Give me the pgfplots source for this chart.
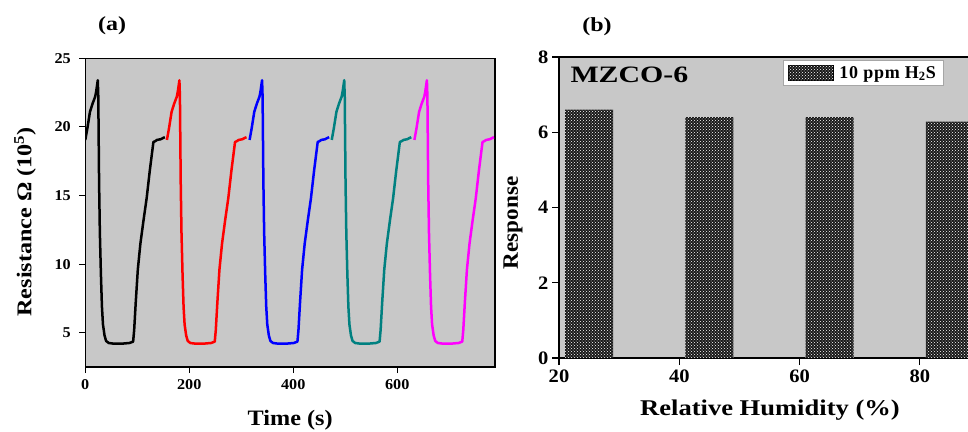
\documentclass[border=0pt]{standalone}
\usepackage{fontspec}
\setmainfont{Liberation Serif}
\usepackage{pgfplots}
\pgfplotsset{compat=1.18}
\usetikzlibrary{patterns}
\definecolor{bg}{RGB}{200,200,200}
\definecolor{tealc}{RGB}{0,128,128}
\definecolor{magc}{RGB}{255,0,255}
\definecolor{redc}{RGB}{255,0,0}
\definecolor{bluec}{RGB}{0,0,255}
\begin{document}
\begin{tikzpicture}[x=1pt,y=1pt]
\useasboundingbox (0,0) rectangle (968,431);
\clip (0,0) rectangle (968,431);
% ---------------- panel (a)
\begin{axis}[at={(85.3pt,64pt)}, anchor=south west, scale only axis,
 width=409.7pt, height=308.7pt,
 xmin=0, xmax=788, ymin=2.5, ymax=25,
 axis background/.style={fill=bg},
 axis line style={line width=1.3pt},
 xtick={0,200,400,600}, ytick={5,10,15,20,25},
 tick align=outside, xtick pos=bottom, ytick pos=left, major tick length=6pt,
 tick style={line width=1.1pt, black},
 /pgf/number format/assume math mode=true,
 ticklabel style={font=\bfseries\fontsize{15}{15}\selectfont\addfontfeature{FakeStretch=1.08}},
 yticklabel style={xshift=-5pt},
 xticklabel style={yshift=-3pt},
 xlabel={Time (s)}, ylabel={Resistance Ω (10\textsuperscript{5})},
 xlabel style={at={(axis description cs:0.5,-0.172)}, anchor=center, font=\bfseries\fontsize{22}{22}\selectfont\addfontfeature{FakeStretch=1.1}},
 ylabel style={at={(axis description cs:-0.147,0.47)}, anchor=center, font=\bfseries\fontsize{21}{21}\selectfont\addfontfeature{FakeStretch=1.15}},
 every axis plot/.append style={line width=2.5pt, line join=round},
 ]
\addplot[black] coordinates {(0,19.05) (4,19.9) (9,21.1) (14,21.7) (19,22.2) (21,22.6) (24,23.4) (25,22.2) (26.5,16.0) (28,12.3) (30,9.3) (32,6.9) (34,5.6) (37,4.8) (40,4.4) (45,4.25) (55,4.2) (70,4.2) (85,4.25) (92,4.35) (94,5.2) (97,7.2) (101,9.6) (106,11.5) (112,13.2) (118,14.8) (124,16.8) (131,18.9) (134,18.95) (138,19.05) (145,19.1) (150,19.2) (153,19.25)};
\addplot[redc] coordinates {(157,19.05) (161,19.9) (166,21.1) (171,21.7) (176,22.2) (178,22.6) (181,23.4) (182,22.2) (183.5,16.0) (185,12.3) (187,9.3) (189,6.9) (191,5.6) (194,4.8) (197,4.4) (202,4.25) (212,4.2) (227,4.2) (242,4.25) (249,4.35) (251,5.2) (254,7.2) (258,9.6) (263,11.5) (269,13.2) (275,14.8) (281,16.8) (288,18.9) (291,18.95) (295,19.05) (302,19.1) (307,19.2) (310,19.25)};
\addplot[bluec] coordinates {(316,19.05) (320,19.9) (325,21.1) (330,21.7) (335,22.2) (337,22.6) (340,23.4) (341,22.2) (342.5,16.0) (344,12.3) (346,9.3) (348,6.9) (350,5.6) (353,4.8) (356,4.4) (361,4.25) (371,4.2) (386,4.2) (401,4.25) (408,4.35) (410,5.2) (413,7.2) (417,9.6) (422,11.5) (428,13.2) (434,14.8) (440,16.8) (447,18.9) (450,18.95) (454,19.05) (461,19.1) (466,19.2) (469,19.25)};
\addplot[tealc] coordinates {(474,19.05) (478,19.9) (483,21.1) (488,21.7) (493,22.2) (495,22.6) (498,23.4) (499,22.2) (500.5,16.0) (502,12.3) (504,9.3) (506,6.9) (508,5.6) (511,4.8) (514,4.4) (519,4.25) (529,4.2) (544,4.2) (559,4.25) (566,4.35) (568,5.2) (571,7.2) (575,9.6) (580,11.5) (586,13.2) (592,14.8) (598,16.8) (605,18.9) (608,18.95) (612,19.05) (619,19.1) (624,19.2) (627,19.25)};
\addplot[magc] coordinates {(633,19.05) (637,19.9) (642,21.1) (647,21.7) (652,22.2) (654,22.6) (657,23.4) (658,22.2) (659.5,16.0) (661,12.3) (663,9.3) (665,6.9) (667,5.6) (670,4.8) (673,4.4) (678,4.25) (688,4.2) (703,4.2) (718,4.25) (725,4.35) (727,5.2) (730,7.2) (734,9.6) (739,11.5) (745,13.2) (751,14.8) (757,16.8) (764,18.9) (767,18.95) (771,19.05) (778,19.1) (783,19.2) (786,19.25)};
\end{axis}
% ---------------- panel (b)
\begin{axis}[at={(559pt,73pt)}, anchor=south west, scale only axis,
 width=421.05pt, height=301pt,
 xmin=20, xmax=90, ymin=0, ymax=8,
 axis background/.style={fill=bg},
 axis line style={line width=1.3pt},
 xtick={20,40,60,80}, ytick={0,2,4,6,8},
 tick align=outside, xtick pos=bottom, ytick pos=left, major tick length=7pt,
 tick style={line width=1.1pt, black},
 /pgf/number format/assume math mode=true,
 ticklabel style={font=\bfseries\fontsize{19}{19}\selectfont\addfontfeature{FakeStretch=1.08}},
 xticklabel style={yshift=-1pt},
 xlabel={Relative Humidity (\%)}, ylabel={Response},
 xlabel style={at={(axis description cs:0.501,-0.173)}, anchor=center, font=\bfseries\fontsize{22.5}{22.5}\selectfont\addfontfeature{FakeStretch=1.18}},
 ylabel style={at={(axis description cs:-0.109,0.449)}, anchor=center, font=\bfseries\fontsize{22}{22}\selectfont\addfontfeature{FakeStretch=1.05}},
 ybar, bar width=8,
 legend style={at={(axis description cs:0.912,0.99)}, anchor=north east, draw=gray!70, fill=white,
   font=\bfseries\fontsize{18}{18}\selectfont\addfontfeature{LetterSpace=4}, inner xsep=5pt, inner ysep=4pt},
 legend image code/.code={\draw[#1] (0pt,-7.5pt) rectangle (45pt,7.5pt);},
 ]
\addplot[draw=none, fill=black!90, postaction={pattern=crosshatch dots, pattern color=white}]
  coordinates {(25,6.6) (45,6.4) (65,6.4) (85,6.28)};
\addlegendentry{\hspace{4pt}10 ppm H\textsubscript{2}S}
\end{axis}
\node[anchor=base west, font=\bfseries\fontsize{23.5}{23.5}\selectfont\addfontfeature{FakeStretch=1.27}] at (567,348) {MZCO-6};
\node[font=\bfseries\fontsize{20}{20}\selectfont\addfontfeature{FakeStretch=1.2}] at (112,405) {(a)};
\node[font=\bfseries\fontsize{20}{20}\selectfont\addfontfeature{FakeStretch=1.2}] at (597,404) {(b)};
\end{tikzpicture}
\end{document}
